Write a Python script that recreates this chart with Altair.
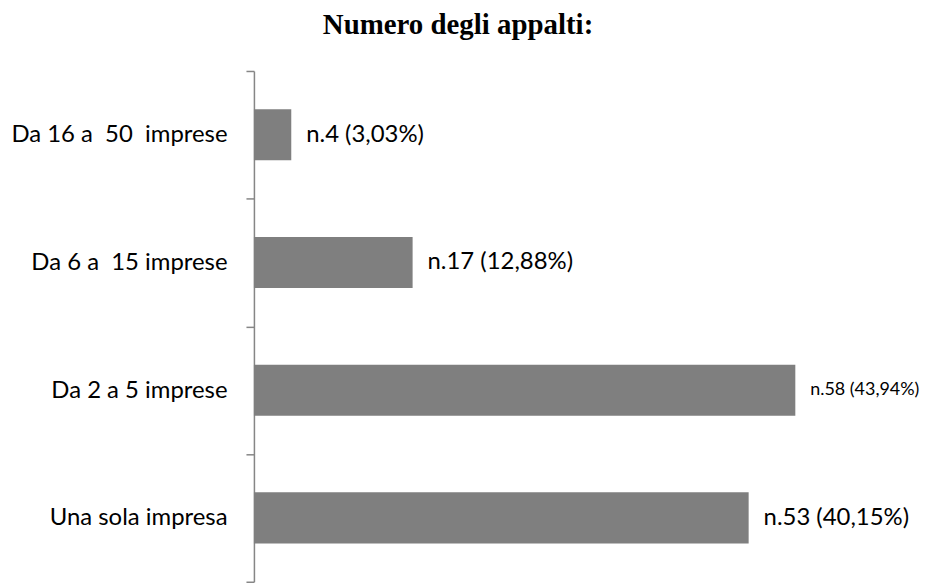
import altair as alt
import pandas as pd

categories = ["Da 16 a \u00a050 \u00a0imprese", "Da 6 a \u00a015 imprese", "Da 2 a 5 imprese", "Una sola impresa"]
counts = [4, 17, 58, 53]
value_labels = ["n.4 (3,03%)", "n.17 (12,88%)", "n.58 (43,94%)", "n.53 (40,15%)"]

df = pd.DataFrame({"cat": categories, "n": counts, "lab": value_labels})

W = 675
H = 513
FONT = "Lato"

y = alt.Y("cat:N", sort=categories, title=None,
          scale=alt.Scale(paddingInner=0, paddingOuter=0),
          axis=alt.Axis(tickBand="extent", domainColor="#868686", tickColor="#868686",
                        domainWidth=1.5, tickWidth=1.5, tickSize=8, labelPadding=19,
                        labelFont=FONT, labelFontSize=24, labelColor="#000000", labelLimit=400))
x = alt.X("n:Q", scale=alt.Scale(domain=[0, 72], nice=False), axis=None)

bars = alt.Chart(df).mark_bar(color="#7f7f7f", height={"band": 0.4}).encode(x=x, y=y)
texts = alt.Chart(df).mark_text(align="left", baseline="middle", dx=15, font=FONT, color="#000000").encode(
    x=x, y=y, text="lab:N",
    size=alt.condition(alt.datum.n == 58, alt.value(18), alt.value(24)))

chart = (bars + texts).properties(
    width=W, height=H,
    autosize=alt.AutoSizeParams(type="none"),
    padding={"left": 247, "top": 62, "right": 0, "bottom": 0},
    title=alt.TitleParams("Numero degli appalti:", font="Liberation Serif", fontSize=29,
                          fontWeight="bold", color="#000000", anchor="middle",
                          dx=460 - (255 + W / 2), offset=19),
).configure_view(stroke=None)

chart.save("out.html", embed_options={"renderer": "svg", "actions": False})
